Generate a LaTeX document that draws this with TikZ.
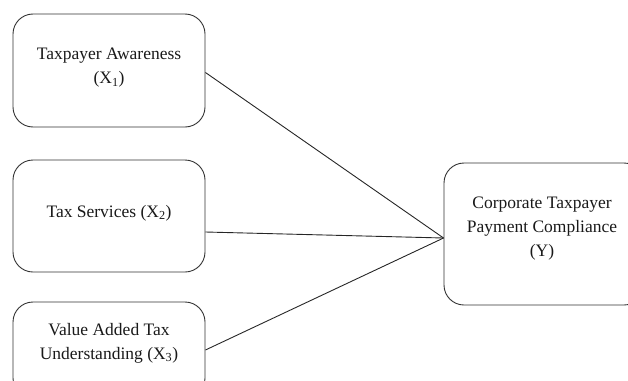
\documentclass[tikz,border=0pt]{standalone}
\usepackage{fontspec}
\setmainfont{Liberation Serif}
\begin{document}
\begin{tikzpicture}[x=1pt,y=-1pt,
  box/.style={draw=black!80, line width=0.9pt, rounded corners=20pt, inner sep=0pt},
  lbl/.style={align=center, font=\fontsize{17.5}{24}\selectfont, text=black!90, inner sep=0pt},
  link/.style={draw=black!85, line width=0.9pt}]
\useasboundingbox (0,0) rectangle (628,380);
\clip (0,0) rectangle (628,380);
\node[box, minimum width=192pt, minimum height=113pt] (b1) at (109,70.5) {};
\node[box, minimum width=192pt, minimum height=112pt] (b2) at (109,216) {};
\node[box, minimum width=192pt, minimum height=96pt] (b3) at (109,350) {};
\node[box, minimum width=200pt, minimum height=142pt] (yb) at (544,234) {};
\node[lbl] (t1) at (109,68) {Taxpayer Awareness\\(X\textsubscript{1})};
\node[lbl] (t2) at (109,213) {Tax Services (X\textsubscript{2})};
\node[lbl] (t3) at (109,343) {Value Added Tax\\Understanding (X\textsubscript{3})};
\node[lbl] (ty) at (542,229) {Corporate Taxpayer\\Payment Compliance\\(Y)};
\coordinate (m) at ([yshift=-4pt]yb.west);
\coordinate (s1) at ([yshift=-2pt]b1.east);
\coordinate (s2) at ([yshift=-16pt]b2.east);
\draw[link] (s1) -- (m);
\draw[link] (s2) -- (m);
\draw[link] (b3.east) -- (m);
\end{tikzpicture}
\end{document}
